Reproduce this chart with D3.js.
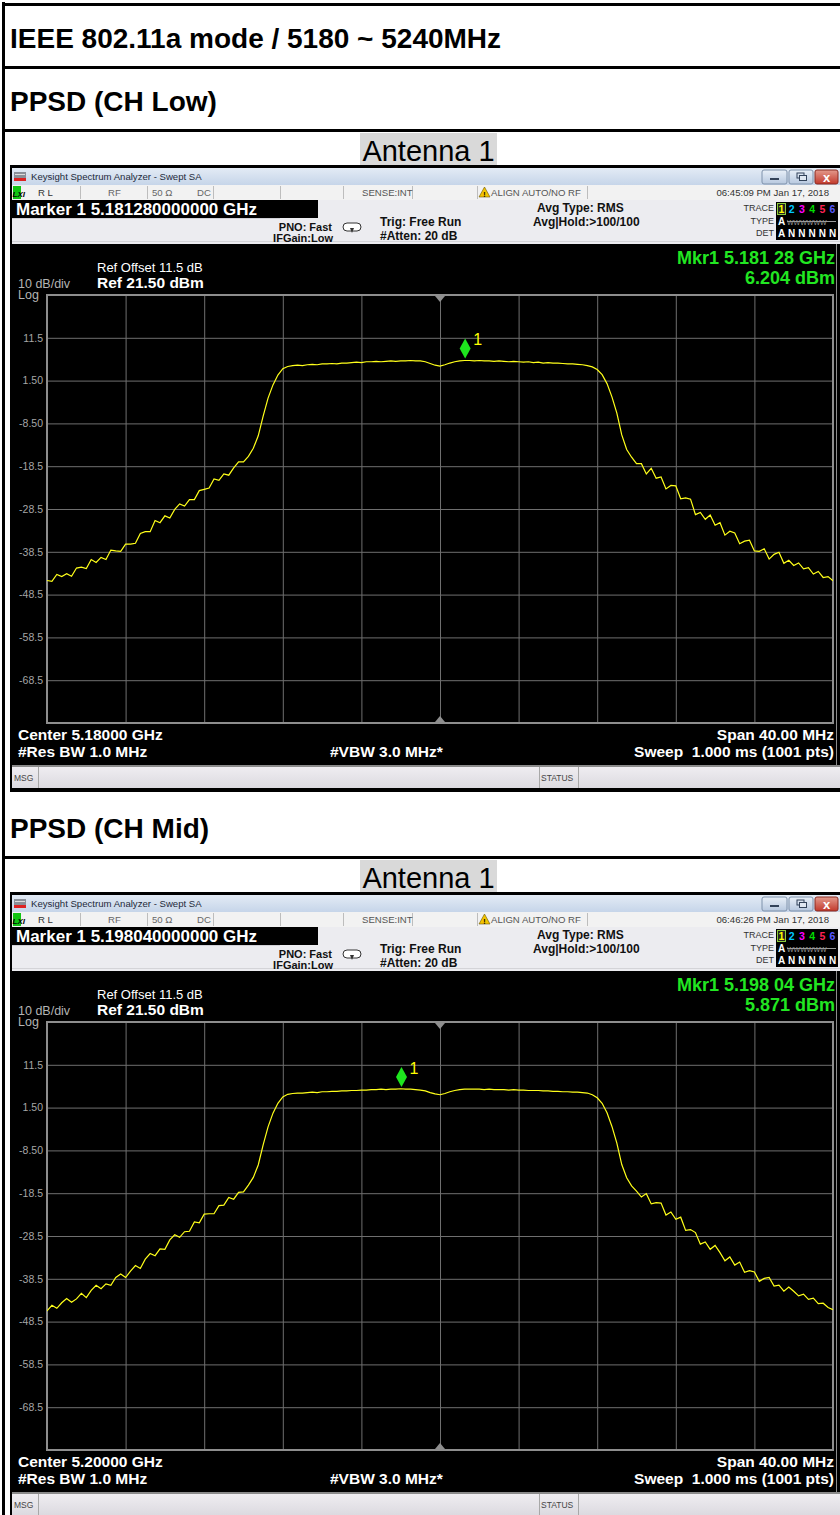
<!DOCTYPE html>
<html><head><meta charset="utf-8">
<script src="https://cdn.jsdelivr.net/npm/d3@7"></script>
<style>
html,body{margin:0;padding:0;background:#fff;}
svg{display:block;font-family:"Liberation Sans",Arial,sans-serif;}
</style></head><body>
<svg id="c" width="840" height="1515"></svg>
<script>
// ---------------- data ----------------
const headerTitle = "IEEE 802.11a mode / 5180 ~ 5240MHz";
const sectionTitles = ["PPSD (CH Low)", "PPSD (CH Mid)"];
const antennaLabels = ["Antenna 1", "Antenna 1"];
const centerFreqTexts = ["Center 5.18000 GHz", "Center 5.20000 GHz"];
const markerLines = ["Marker 1 5.181280000000 GHz", "Marker 1 5.198040000000 GHz"];
const mkrReadouts = ["Mkr1 5.181 28 GHz", "Mkr1 5.198 04 GHz"];
const mkrLevels = ["6.204 dBm", "5.871 dBm"];
const markerOffsetMHz = [1.28, -1.96];
const markerDbm = [6.204, 5.871];
const timestamps = ["06:45:09 PM Jan 17, 2018", "06:46:26 PM Jan 17, 2018"];
const yTicks = [11.5, 1.5, -8.5, -18.5, -28.5, -38.5, -48.5, -58.5, -68.5];
const yTickLabels = ["11.5", "1.50", "-8.50", "-18.5", "-28.5", "-38.5", "-48.5", "-58.5", "-68.5"];
const xGridMHz = [-16, -12, -8, -4, 0, 4, 8, 12, 16];
const refLevel = 21.5, bottomLevel = -78.5;
const spanStartMHz = -20, spanEndMHz = 20, stepMHz = 0.25;

// trace levels (dBm), sweep points every 0.25 MHz from -20 MHz to +20 MHz
const lowTrace = [
 -45.2,-45.4,-43.8,-44.3,-43.6,-44.2,-42.3,-42.1,-42.4,-40.3,
 -41.0,-39.8,-40.3,-38.1,-38.3,-38.4,-36.7,-36.7,-36.5,-34.2,
 -33.8,-33.8,-31.2,-31.7,-30.1,-30.6,-28.6,-27.3,-27.8,-26.3,
 -26.3,-24.2,-23.9,-23.6,-21.5,-21.8,-20.3,-20.6,-18.9,-17.5,
 -17.5,-16.2,-14.3,-11.4,-6.8,-2.6,0.5,2.8,4.3,4.8,
 5.0,5.1,5.0,5.2,5.3,5.2,5.4,5.4,5.5,5.4,
 5.6,5.6,5.7,5.8,5.7,5.9,5.9,6.0,5.9,6.0,
 6.1,6.0,6.1,6.1,6.2,6.1,6.1,5.9,5.5,5.1,
 4.9,5.2,5.6,5.9,6.1,6.2,6.2,6.1,6.2,6.1,
 6.1,6.0,6.1,6.0,5.9,6.0,5.9,5.8,5.9,5.7,
 5.8,5.6,5.7,5.6,5.6,5.5,5.4,5.4,5.3,5.2,
 5.0,4.7,4.1,2.9,0.8,-2.3,-6.1,-11.2,-14.6,-16.4,
 -17.9,-17.9,-20.3,-19.0,-21.3,-21.0,-23.8,-23.0,-23.1,-26.1,
 -25.9,-26.2,-29.8,-29.3,-30.9,-29.9,-32.3,-31.7,-34.6,-33.7,
 -34.1,-36.6,-36.0,-35.8,-38.3,-38.4,-37.8,-40.2,-39.1,-38.6,
 -41.2,-40.5,-41.7,-41.1,-42.5,-42.2,-43.7,-43.1,-44.5,-44.3,
 -45.3
];
const midTrace = [
 -46.0,-44.7,-45.4,-44.1,-43.1,-44.0,-43.2,-41.9,-42.9,-41.2,
 -40.0,-40.8,-39.7,-40.0,-38.2,-37.4,-38.2,-36.7,-35.4,-36.1,
 -33.9,-32.6,-33.1,-31.5,-31.6,-29.4,-28.2,-28.8,-27.5,-27.4,
 -25.2,-25.4,-23.4,-23.3,-23.3,-21.4,-21.3,-19.5,-19.9,-18.3,
 -18.2,-16.6,-14.8,-11.9,-7.2,-3.0,0.2,2.5,4.0,4.6,
 4.8,4.9,4.9,5.0,5.1,5.0,5.2,5.2,5.3,5.3,
 5.4,5.4,5.5,5.5,5.6,5.6,5.7,5.7,5.8,5.7,
 5.8,5.8,5.9,5.8,5.8,5.7,5.6,5.4,5.0,4.7,
 4.5,4.8,5.2,5.5,5.7,5.8,5.8,5.8,5.8,5.7,
 5.8,5.7,5.7,5.7,5.6,5.7,5.6,5.6,5.5,5.5,
 5.5,5.4,5.4,5.3,5.3,5.2,5.2,5.1,5.1,5.0,
 4.9,4.5,3.8,2.5,0.3,-2.9,-6.8,-11.8,-14.9,-16.8,
 -18.0,-19.4,-18.6,-21.0,-20.7,-20.8,-23.6,-22.9,-24.6,-24.1,
 -27.2,-27.0,-27.7,-30.4,-29.9,-31.6,-30.7,-32.4,-34.3,-33.4,
 -35.3,-34.6,-37.0,-36.6,-36.9,-39.1,-38.4,-38.2,-40.2,-40.0,
 -41.4,-40.4,-41.4,-42.5,-42.1,-43.3,-43.0,-44.3,-44.2,-45.2,
 -45.7
];
const traces = [lowTrace, midTrace];

// ---------------- drawing ----------------
const FONT = '"Liberation Sans",Arial,sans-serif';
const svg = d3.select("#c");
const defs = svg.append("defs");
function grad(id, c1, c2) {
  const lg = defs.append("linearGradient").attr("id", id).attr("x1", 0).attr("y1", 0).attr("x2", 0).attr("y2", 1);
  lg.append("stop").attr("offset", "0%").attr("stop-color", c1);
  lg.append("stop").attr("offset", "100%").attr("stop-color", c2);
}
grad("tb", "#e3ebf5", "#c6d5e9");
grad("btn", "#e9f0f8", "#b7c8df");
grad("cls", "#e49a8c", "#c2392c");
grad("msg", "#efedf1", "#dcdae0");

svg.append("rect").attr("width", 840).attr("height", 1515).attr("fill", "#fff");

function txt(g, x, y, s, size, opts = {}) {
  return g.append("text").attr("x", x).attr("y", y).text(s)
    .attr("font-family", FONT).attr("font-size", size)
    .attr("font-weight", opts.bold ? "bold" : "normal")
    .attr("font-style", opts.italic ? "italic" : "normal")
    .attr("fill", opts.fill || "#000")
    .attr("text-anchor", opts.anchor || "start");
}

// table frame
svg.append("rect").attr("x", 2).attr("y", 2).attr("width", 3).attr("height", 1513).attr("fill", "#000");
function hline(y, h) { svg.append("rect").attr("x", 2).attr("y", y).attr("width", 838).attr("height", h).attr("fill", "#000"); }
hline(3, 3); hline(66, 3); hline(129, 3);
txt(svg, 10, 48, headerTitle, 28, { bold: true });

const sectionOffsets = [0, 727];

function drawPanel(k, y0) {
  const g = svg.append("g").attr("transform", `translate(0,${y0})`);
  // outer frame
  g.append("rect").attr("x", 10).attr("y", -1).attr("width", 830).attr("height", 627).attr("fill", "#000");
  // title bar
  g.append("rect").attr("x", 12).attr("y", 2).attr("width", 828).attr("height", 17).attr("fill", "url(#tb)");
  g.append("rect").attr("x", 14).attr("y", 6).attr("width", 12).attr("height", 9).attr("fill", "#8a8f98");
  g.append("rect").attr("x", 14).attr("y", 12).attr("width", 12).attr("height", 3).attr("fill", "#d22");
  g.append("rect").attr("x", 15).attr("y", 8).attr("width", 10).attr("height", 1).attr("fill", "#ddd");
  txt(g, 31, 14, "Keysight Spectrum Analyzer - Swept SA", 9.6, { fill: "#1e2a3a" });
  // window buttons
  [[762, 25], [789, 24]].forEach(([bx, bw]) => {
    g.append("rect").attr("x", bx).attr("y", 4).attr("width", bw).attr("height", 14).attr("rx", 2)
      .attr("fill", "url(#btn)").attr("stroke", "#7f92ab");
  });
  g.append("rect").attr("x", 770).attr("y", 12).attr("width", 9).attr("height", 2).attr("fill", "#33435a");
  g.append("rect").attr("x", 797).attr("y", 7).attr("width", 7).attr("height", 5).attr("fill", "none").attr("stroke", "#33435a");
  g.append("rect").attr("x", 799.5).attr("y", 9.5).attr("width", 7).attr("height", 5).attr("fill", "#dfe7f1").attr("stroke", "#33435a");
  g.append("rect").attr("x", 815).attr("y", 4).attr("width", 23).attr("height", 14).attr("rx", 2)
    .attr("fill", "url(#cls)").attr("stroke", "#8a2a20");
  txt(g, 826.5, 15.5, "x", 13, { bold: true, fill: "#fff", anchor: "middle" });

  // status row
  g.append("rect").attr("x", 12).attr("y", 19).attr("width", 828).attr("height", 15).attr("fill", "#f2f2f2");
  g.append("rect").attr("x", 13).attr("y", 20).attr("width", 8).attr("height", 13).attr("fill", "#12c412");
  txt(g, 12.5, 31, "LXI", 8, { bold: true, italic: true, fill: "#000" });
  [80, 147, 213, 280, 343, 412, 477, 587].forEach(sx => {
    g.append("rect").attr("x", sx).attr("y", 20).attr("width", 1).attr("height", 13).attr("fill", "#bdbdbd");
  });
  txt(g, 38, 30, "R L", 9.6, { fill: "#333" });
  txt(g, 108, 30, "RF", 9.6, { fill: "#666" });
  txt(g, 152, 30, "50 Ω", 9.6, { fill: "#666" });
  txt(g, 197, 30, "DC", 9.6, { fill: "#666" });
  txt(g, 362, 30, "SENSE:INT", 9.6, { fill: "#555" });
  g.append("path").attr("d", "M484.5,21 L490,31 L479,31 Z").attr("fill", "#f3c400").attr("stroke", "#6b5500").attr("stroke-width", 0.6);
  txt(g, 484.5, 30.5, "!", 7, { bold: true, anchor: "middle" });
  txt(g, 491, 30, "ALIGN AUTO/NO RF", 9.6, { fill: "#555" });
  txt(g, 829, 30, timestamps[k], 9.6, { fill: "#333", anchor: "end" });

  // marker row & settings panel
  g.append("rect").attr("x", 12).attr("y", 34).attr("width", 828).attr("height", 44).attr("fill", "#ececf0");
  g.append("rect").attr("x", 12).attr("y", 52).attr("width", 268).attr("height", 1).attr("fill", "#d0d0d6");
  g.append("rect").attr("x", 12).attr("y", 75).attr("width", 828).attr("height", 1).attr("fill", "#d4d4d8");
  g.append("rect").attr("x", 12).attr("y", 34).attr("width", 306).attr("height", 18).attr("fill", "#000");
  txt(g, 16, 49, markerLines[k], 17, { bold: true, fill: "#fff" });
  txt(g, 332, 65, "PNO: Fast", 11, { bold: true, fill: "#111", anchor: "end" });
  txt(g, 333, 76, "IFGain:Low", 11, { bold: true, fill: "#111", anchor: "end" });
  g.append("rect").attr("x", 343).attr("y", 57).attr("width", 18).attr("height", 8).attr("rx", 4)
    .attr("fill", "#fff").attr("stroke", "#333").attr("stroke-width", 1);
  g.append("path").attr("d", "M350,62 L354,62 L352,67 Z").attr("fill", "#333");
  txt(g, 380, 60, "Trig: Free Run", 12, { bold: true, fill: "#111" });
  txt(g, 380, 74, "#Atten: 20 dB", 12, { bold: true, fill: "#111" });
  txt(g, 537, 46, "Avg Type: RMS", 12, { bold: true, fill: "#111" });
  txt(g, 533, 60, "Avg|Hold:>100/100", 12, { bold: true, fill: "#111" });
  // trace box
  txt(g, 774, 45, "TRACE", 9, { fill: "#333", anchor: "end" });
  txt(g, 774, 58, "TYPE", 9, { fill: "#333", anchor: "end" });
  txt(g, 774, 70, "DET", 9, { fill: "#333", anchor: "end" });
  g.append("rect").attr("x", 776).attr("y", 36).attr("width", 62).attr("height", 38).attr("fill", "#000");
  g.append("rect").attr("x", 777.5).attr("y", 37.5).attr("width", 8).attr("height", 11).attr("fill", "#222").attr("stroke", "#8ccc3a");
  const tColors = ["#ffff00", "#00c8ff", "#ff00ff", "#00dd00", "#ff2255", "#5a5aff"];
  tColors.forEach((c, i) => txt(g, 781.5 + i * 10.2, 47, String(i + 1), 10.5, { bold: true, fill: c, anchor: "middle" }));
  txt(g, 781.5, 59, "A", 10, { bold: true, fill: "#fff", anchor: "middle" });
  txt(g, 787, 59, "WWWWWW", 7, { fill: "#9a9a9a" });
  g.append("rect").attr("x", 787).attr("y", 55).attr("width", 49).attr("height", 1).attr("fill", "#9a9a9a");
  txt(g, 781.5, 71, "A", 10, { bold: true, fill: "#fff", anchor: "middle" });
  for (let i = 1; i < 6; i++) txt(g, 781.5 + i * 10.2, 71, "N", 10, { bold: true, fill: "#fff", anchor: "middle" });

  // black display area edge
  g.append("rect").attr("x", 836).attr("y", 78).attr("width", 1).attr("height", 521).attr("fill", "#8c8c8c");

  // scales
  const x = d3.scaleLinear().domain([spanStartMHz, spanEndMHz]).range([47, 833]);
  const y = d3.scaleLinear().domain([bottomLevel, refLevel]).range([557, 129]);

  // readouts
  txt(g, 97, 106, "Ref Offset 11.5 dB", 13, { fill: "#fff" });
  txt(g, 97, 122, "Ref 21.50 dBm", 15.5, { bold: true, fill: "#fff" });
  txt(g, 18, 121.5, "10 dB/div", 12.5, { fill: "#b4b4b4" });
  txt(g, 18, 133, "Log", 12.5, { fill: "#b4b4b4" });
  txt(g, 835, 98, mkrReadouts[k], 18, { bold: true, fill: "#22e622", anchor: "end" });
  txt(g, 835, 118, mkrLevels[k], 18, { bold: true, fill: "#22e622", anchor: "end" });

  // grid via axes
  const gy = g.append("g").attr("transform", "translate(47,0)")
    .call(d3.axisLeft(y).tickValues(yTicks).tickFormat((d, i) => yTickLabels[i]).tickSize(-786).tickPadding(4));
  gy.select(".domain").remove();
  gy.selectAll("line").attr("stroke", "#6f6f6f");
  gy.selectAll("text").attr("fill", "#a6a6a6").attr("font-size", 10.5).attr("font-family", FONT);
  const gx = g.append("g").attr("transform", "translate(0,557)")
    .call(d3.axisBottom(x).tickValues(xGridMHz).tickFormat("").tickSize(-428));
  gx.select(".domain").remove();
  gx.selectAll("line").attr("stroke", "#6f6f6f");
  g.append("rect").attr("x", 47).attr("y", 129).attr("width", 786).attr("height", 428)
    .attr("fill", "none").attr("stroke", "#8e8e8e").attr("stroke-width", 2);
  // center triangles
  const cx = x(0);
  g.append("path").attr("d", `M${cx - 5},130 L${cx + 5},130 L${cx},136 Z`).attr("fill", "#8e8e8e");
  g.append("path").attr("d", `M${cx - 5},556 L${cx + 5},556 L${cx},550 Z`).attr("fill", "#8e8e8e");

  // trace
  const clipId = "clip" + k;
  g.append("clipPath").attr("id", clipId).append("rect").attr("x", 47).attr("y", 129).attr("width", 786).attr("height", 428);
  const line = d3.line().x((d, i) => x(spanStartMHz + i * stepMHz)).y(d => y(d));
  g.append("path").datum(traces[k]).attr("d", line).attr("fill", "none")
    .attr("stroke", "#ffff1a").attr("stroke-width", 1.2).attr("clip-path", `url(#${clipId})`);

  // marker
  const mx = x(markerOffsetMHz[k]), my = y(markerDbm[k]) - 2;
  g.append("path").attr("d", `M${mx},${my} L${mx - 5.5},${my - 10} L${mx},${my - 20} L${mx + 5.5},${my - 10} Z`).attr("fill", "#1ee61e");
  txt(g, mx + 8, my - 13, "1", 16, { fill: "#ffff00" });

  // bottom annotations
  txt(g, 18, 574, centerFreqTexts[k], 15.5, { bold: true, fill: "#fff" });
  txt(g, 18, 591, "#Res BW 1.0 MHz", 15.5, { bold: true, fill: "#fff" });
  txt(g, 330, 591, "#VBW 3.0 MHz*", 15.5, { bold: true, fill: "#fff" });
  txt(g, 834, 574, "Span 40.00 MHz", 15.5, { bold: true, fill: "#fff", anchor: "end" });
  txt(g, 834, 591, "Sweep  1.000 ms (1001 pts)", 15.5, { bold: true, fill: "#fff", anchor: "end" }).attr("xml:space", "preserve").style("white-space", "pre");

  // MSG bar
  g.append("rect").attr("x", 12).attr("y", 599).attr("width", 828).attr("height", 2).attr("fill", "#8a8a8a");
  g.append("rect").attr("x", 12).attr("y", 601).attr("width", 828).attr("height", 21).attr("fill", "url(#msg)");
  [38, 539, 578].forEach(sx => g.append("rect").attr("x", sx).attr("y", 601).attr("width", 1).attr("height", 21).attr("fill", "#a8a8a8"));
  txt(g, 14, 615, "MSG", 8.5, { fill: "#444" });
  txt(g, 541, 615, "STATUS", 8.5, { fill: "#444" });
}

sectionOffsets.forEach((off, k) => {
  txt(svg, 10, 111 + off, sectionTitles[k], 28, { bold: true });
  if (k > 0) { hline(129 + off, 3); }
  svg.append("rect").attr("x", 360).attr("y", 133 + off).attr("width", 137).attr("height", 32).attr("fill", "#d9d9d9");
  txt(svg, 428.5, 161 + off, antennaLabels[k], 29, { anchor: "middle" });
  drawPanel(k, 166 + off);
});
</script>
</body></html>
